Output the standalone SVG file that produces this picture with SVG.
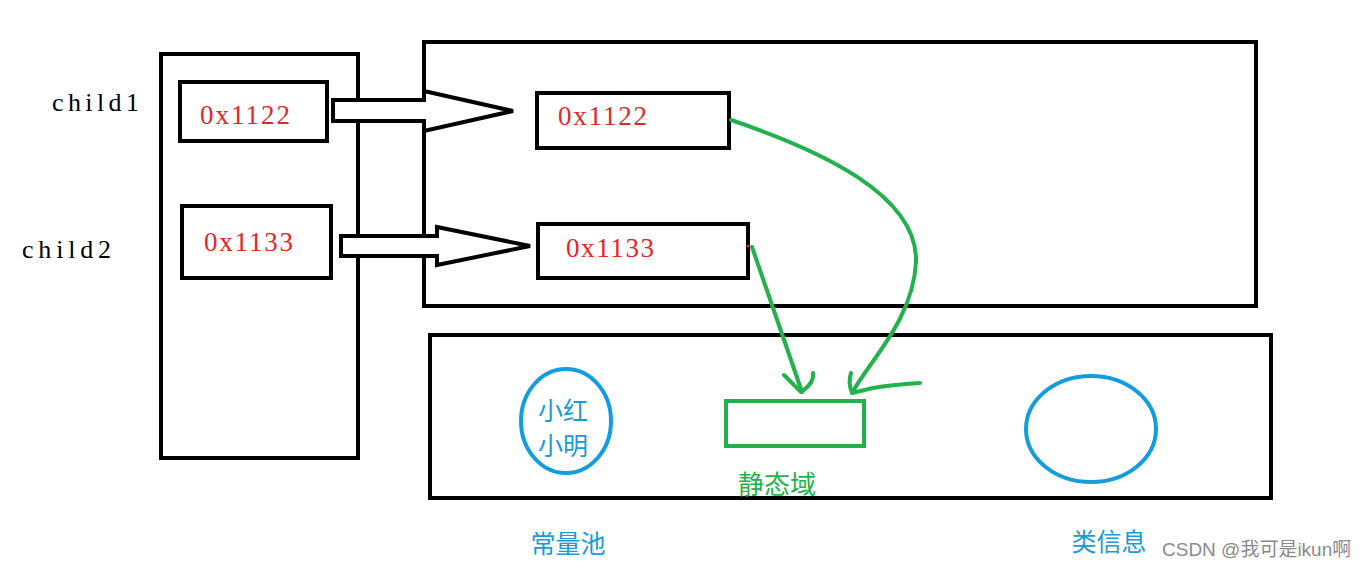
<svg xmlns="http://www.w3.org/2000/svg" width="1366" height="569" viewBox="0 0 1366 569">
<style>
.box{fill:none;stroke:#000;stroke-width:4}
.addr{font-family:"Liberation Serif",serif;font-size:27px;fill:#e3262a}
.lbl{font-family:"Liberation Serif",serif;font-size:26px;fill:#000}
.blue{font-family:"Noto Sans CJK SC",sans-serif;font-size:25px;fill:#1a9ad6}
.green{font-family:"Noto Sans CJK SC",sans-serif;font-size:26px;fill:#22b14c}
.ell{fill:none;stroke:#139ddf;stroke-width:4}
.gl{fill:none;stroke:#22b14c;stroke-width:4;stroke-linecap:round;stroke-linejoin:round}
.arr{fill:#fff;stroke:#000;stroke-width:4;stroke-linejoin:miter}
</style>
<rect width="1366" height="569" fill="#fff"/>
<g id="stack">
<rect class="box" x="161" y="54" width="197" height="404"/>
</g>
<g id="heap">
<rect class="box" x="424" y="42" width="832" height="264"/>
</g>
<g id="method-area">
<rect class="box" x="430" y="335" width="841" height="163"/>
</g>
<g id="child1">
<text class="lbl" x="52" y="111" textLength="87">child1</text>
<rect class="box" x="180" y="82" width="147" height="59"/>
<text class="addr" x="200" y="124" textLength="90">0x1122</text>
</g>
<g id="child2">
<text class="lbl" x="22" y="258" textLength="89">child2</text>
<rect class="box" x="182" y="206" width="149" height="72"/>
<text class="addr" x="204" y="251" textLength="89">0x1133</text>
</g>
<g id="obj1">
<rect class="box" x="537" y="93" width="192" height="55"/>
<text class="addr" x="558" y="125" textLength="89">0x1122</text>
</g>
<g id="obj2">
<rect class="box" x="538" y="224" width="210" height="54"/>
<text class="addr" x="566" y="257" textLength="88">0x1133</text>
</g>
<g id="const-pool">
<ellipse class="ell" cx="566" cy="421" rx="45" ry="52"/>
<text class="blue" x="563" y="420" text-anchor="middle">小红</text>
<text class="blue" x="563" y="455" text-anchor="middle">小明</text>
<text class="blue" x="568" y="553" text-anchor="middle" font-size="26">常量池</text>
</g>
<g id="static-field">
<rect x="726" y="401" width="138" height="45" fill="none" stroke="#22b14c" stroke-width="4"/>
<text class="green" x="777" y="494" text-anchor="middle">静态域</text>
</g>
<g id="class-info">
<ellipse class="ell" cx="1091" cy="429" rx="65" ry="53"/>
<text class="blue" x="1109" y="551" text-anchor="middle" font-size="26">类信息</text>
</g>
<g id="connectors">
<path class="arr" d="M333,100 H424 V91 L513,111 L424,131 V121 H333 Z"/>
<path class="arr" d="M341,236 H437 V227 L530,246 L437,265 V256 H341 Z"/>
<path class="gl" d="M731,120 C820,150 918,195 916,262 C913,320 870,360 852,393"/>
<path class="gl" d="M851,373 C848,382 850,388 852,393 L873,388 C890,385 905,384 920,383"/>
<path class="gl" d="M752,247 L802,392"/>
<path class="gl" d="M784,375 L801,392 C810,386 814,380 813,373"/>
<circle cx="748" cy="246" r="1.5" fill="#e3262a"/>
</g>
<text x="1162" y="556" font-family="Liberation Sans,'Noto Sans CJK SC',sans-serif" font-size="19" fill="#8a8a8a">CSDN @我可是ikun啊</text>
</svg>
